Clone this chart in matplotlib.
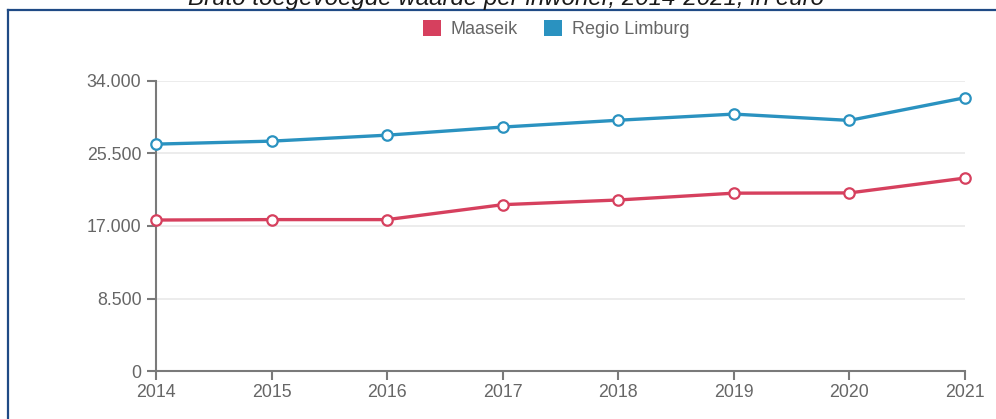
import matplotlib
matplotlib.use("Agg")
import matplotlib.pyplot as plt
from matplotlib.patches import Rectangle
from matplotlib.lines import Line2D

years = [2014, 2015, 2016, 2017, 2018, 2019, 2020, 2021]
maaseik = [17700, 17750, 17750, 19500, 20050, 20850, 20880, 22620]
limburg = [26600, 26950, 27650, 28600, 29400, 30120, 29380, 32040]
yticks = [0, 8500, 17000, 25500, 34000]
ytick_labels = ["0", "8.500", "17.000", "25.500", "34.000"]
series_names = ["Maaseik", "Regio Limburg"]
title = "Bruto toegevoegde waarde per inwoner, 2014-2021, in euro"

RED = "#d6405e"
BLUE = "#2a92c0"
GRAY = "#666666"
AXC = "#7a7a7a"

plt.rcParams['font.family'] = ['Liberation Sans', 'DejaVu Sans']

W, H = 996, 419
fig = plt.figure(figsize=(W / 100, H / 100), dpi=100)

# frame
fig.add_artist(Line2D([8 / W, 8 / W], [0, 1 - 10 / H], transform=fig.transFigure,
                      color="#1f4a85", lw=1.6))
fig.add_artist(Line2D([8 / W, 1.0], [1 - 10 / H, 1 - 10 / H], transform=fig.transFigure,
                      color="#1f4a85", lw=1.6))

# title (clipped at top)
fig.text(506 / W, 1 - 5 / H, title, ha="center", va="baseline", fontsize=17.4,
         style="italic", color="#1a1a1a")

ax = fig.add_axes([156 / W, 1 - 371 / H, (965 - 156) / W, (371 - 81) / H])
ax.set_xlim(years[0], years[-1])
ax.set_ylim(yticks[0], yticks[-1])

ax.set_yticks(yticks)
ax.set_yticklabels(ytick_labels)
ax.set_xticks(years)
ax.set_xticklabels([str(y) for y in years])

for y in yticks[1:]:
    ax.axhline(y, color="#ebebeb", lw=1.3, zorder=0)

for s in ["top", "right"]:
    ax.spines[s].set_visible(False)
for s in ["left", "bottom"]:
    ax.spines[s].set_color(AXC)
    ax.spines[s].set_linewidth(1.5)
ax.tick_params(axis="both", colors=AXC, width=1.5, length=6.5, labelcolor=GRAY,
               labelsize=12.8)
ax.tick_params(axis="y", pad=4)
ax.tick_params(axis="x", pad=3)

ax.plot(years, maaseik, color=RED, lw=2.4, marker="o", markersize=7.5,
        markerfacecolor="white", markeredgecolor=RED, markeredgewidth=1.6,
        clip_on=False, zorder=3)
ax.plot(years, limburg, color=BLUE, lw=2.4, marker="o", markersize=7.5,
        markerfacecolor="white", markeredgecolor=BLUE, markeredgewidth=1.6,
        clip_on=False, zorder=3)

# legend
handles = [Rectangle((0, 0), 1, 1, facecolor=RED, edgecolor="none"),
           Rectangle((0, 0), 1, 1, facecolor=BLUE, edgecolor="none")]
leg = fig.legend(handles, series_names, loc="center", bbox_to_anchor=(556 / W, 1 - 29 / H),
                 ncol=2, frameon=False, fontsize=13, handlelength=1.0, handleheight=1.0,
                 handletextpad=0.55, columnspacing=1.4, labelcolor=GRAY)

fig.savefig("out.png", dpi=100)
